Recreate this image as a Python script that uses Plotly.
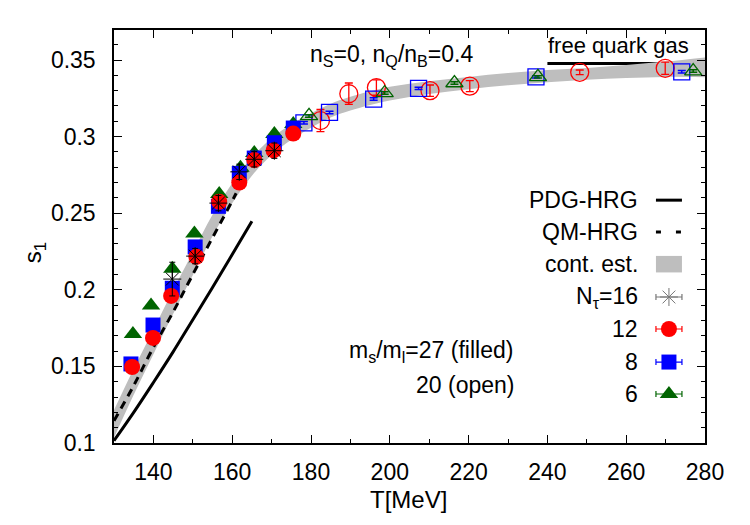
import plotly.graph_objects as go

# ---------------- data ----------------
# continuum estimate band (lower / upper edge)
T_band = [130, 135, 140, 145, 150, 155, 160, 165, 170, 175, 180, 185, 190, 200, 210, 220, 230, 240, 250, 260, 270, 280]
band_lo = [0.1035, 0.1315, 0.158, 0.1842, 0.2095, 0.235, 0.2565, 0.2745, 0.288, 0.298, 0.3058, 0.3125, 0.317,
           0.3235, 0.3278, 0.331, 0.3335, 0.3355, 0.3372, 0.3383, 0.339, 0.3387]
band_hi = [0.1215, 0.1485, 0.174, 0.1998, 0.2245, 0.249, 0.2695, 0.2865, 0.299, 0.308, 0.3152, 0.3215, 0.326,
           0.3325, 0.3362, 0.339, 0.3415, 0.3435, 0.3448, 0.3467, 0.349, 0.3517]

# PDG-HRG and QM-HRG curves
T_pdg = [130, 135, 140, 145, 150, 155, 160, 165]
s_pdg = [0.1015, 0.120, 0.1395, 0.1595, 0.1805, 0.2015, 0.223, 0.2447]
T_qm = [130, 135, 140, 145, 150, 155, 160, 161]
s_qm = [0.1145, 0.1375, 0.1625, 0.1855, 0.210, 0.234, 0.258, 0.263]

# free quark gas limit
T_fqg = [240, 280]
s_fqg = [0.3478, 0.3478]

# ms/ml = 27 (filled)
T_n16 = [144.8, 150.6, 156.5, 161.8, 165.6, 170.7]
s_n16 = [0.207, 0.222, 0.2566, 0.277, 0.2852, 0.2908]
e_n16 = [0.011, 0.005, 0.005, 0.005, 0.005, 0.005]

T_n12f = [134.6, 139.9, 144.5, 150.9, 156.7, 161.8, 165.6, 170.5, 175.5]
s_n12f = [0.1496, 0.1686, 0.196, 0.2216, 0.2575, 0.270, 0.2847, 0.291, 0.302]

T_n8f = [134.3, 139.9, 144.8, 150.6, 156.5, 161.8, 165.6, 170.7, 175.5]
s_n8f = [0.1516, 0.177, 0.201, 0.228, 0.2545, 0.276, 0.286, 0.296, 0.3056]

T_n6f = [134.8, 139.4, 144.8, 150.4, 156.7, 162.1, 165.6, 170.7, 175.5]
s_n6f = [0.1711, 0.1897, 0.2137, 0.2367, 0.2625, 0.2797, 0.2893, 0.3017, 0.3082]

# ms/ml = 20 (open)
T_n12o = [182.4, 189.6, 196.6, 210.2, 220.3, 248.2, 269.9]
s_n12o = [0.3105, 0.328, 0.332, 0.330, 0.333, 0.342, 0.3446]
e_n12o = [0.0072, 0.007, 0.005, 0.0037, 0.0036, 0.0015, 0.004]

T_n8o = [178.2, 184.7, 195.9, 207.3, 237.1, 274.1]
s_n8o = [0.309, 0.3158, 0.3245, 0.3315, 0.339, 0.3423]
e_n8o = [0.0008, 0.0008, 0.0008, 0.0008, 0.0008, 0.0008]

T_n6o = [179.5, 198.7, 216.4, 237.6, 277.0]
s_n6o = [0.3135, 0.3285, 0.335, 0.339, 0.3428]
e_n6o = [0.0008, 0.0008, 0.0008, 0.0008, 0.0008]

x_ticks = [140, 160, 180, 200, 220, 240, 260, 280]
x_ticklabels = ["140", "160", "180", "200", "220", "240", "260", "280"]
y_ticks = [0.1, 0.15, 0.2, 0.25, 0.3, 0.35]
y_ticklabels = ["0.1", "0.15", "0.2", "0.25", "0.3", "0.35"]

legend_labels = ["PDG-HRG", "QM-HRG", "cont. est.", "N<sub>τ</sub>=16", "12", "8", "6"]

# ---------------- style ----------------
FONT = "Liberation Sans, Arial, Helvetica, sans-serif"
RED = "#ff0000"
BLUE = "#0000ff"
GREEN = "#006400"
GREY = "#bebebe"
TXT = 23

fig = go.Figure()

fig.add_trace(go.Scatter(x=T_fqg, y=s_fqg, mode="lines", line=dict(color="black", width=3), showlegend=False))
fig.add_trace(go.Scatter(x=T_band, y=band_lo, mode="lines", line=dict(width=0, shape="spline"),
                         showlegend=False, hoverinfo="skip"))
fig.add_trace(go.Scatter(x=T_band, y=band_hi, mode="lines", line=dict(width=0, shape="spline"),
                         fill="tonexty", fillcolor=GREY, showlegend=False, hoverinfo="skip"))
fig.add_trace(go.Scatter(x=T_qm, y=s_qm, mode="lines", line=dict(color="black", width=3, dash="8px,6px", shape="spline"),
                         showlegend=False))
fig.add_trace(go.Scatter(x=T_pdg, y=s_pdg, mode="lines", line=dict(color="black", width=3, shape="spline"),
                         showlegend=False))

# open symbols
fig.add_trace(go.Scatter(x=T_n12o, y=s_n12o, mode="markers",
                         marker=dict(symbol="circle-open", size=18, color=RED, line=dict(width=1.3, color=RED)),
                         error_y=dict(type="data", array=e_n12o, color=RED, thickness=1.3, width=4),
                         showlegend=False))
fig.add_trace(go.Scatter(x=T_n8o, y=s_n8o, mode="markers",
                         marker=dict(symbol="square-open", size=16, color=BLUE, line=dict(width=1.3, color=BLUE)),
                         error_y=dict(type="data", array=e_n8o, color=BLUE, thickness=1.5, width=4),
                         showlegend=False))
fig.add_trace(go.Scatter(x=T_n6o, y=s_n6o, mode="markers",
                         marker=dict(symbol="triangle-up-open", size=15, color=GREEN, line=dict(width=1.3, color=GREEN)),
                         error_y=dict(type="data", array=e_n6o, color=GREEN, thickness=1.5, width=4),
                         showlegend=False))

# filled symbols
fig.add_trace(go.Scatter(x=T_n6f, y=s_n6f, mode="markers",
                         marker=dict(symbol="triangle-up", size=16, color=GREEN), showlegend=False))
fig.add_trace(go.Scatter(x=T_n8f, y=s_n8f, mode="markers",
                         marker=dict(symbol="square", size=15, color=BLUE), showlegend=False))
fig.add_trace(go.Scatter(x=T_n12f, y=s_n12f, mode="markers",
                         marker=dict(symbol="circle", size=16, color=RED), showlegend=False))
fig.add_trace(go.Scatter(x=T_n16, y=s_n16, mode="markers",
                         marker=dict(symbol="asterisk-open", size=15, color="black", line=dict(width=1, color="black")),
                         error_y=dict(type="data", array=e_n16, color="black", thickness=1, width=3),
                         showlegend=False))

# ---------------- custom legend (text left, key right, as in the original) ----------------
leg_y = [0.588, 0.511, 0.433, 0.3535, 0.276, 0.196, 0.1186]
leg_text_x = 0.890
key_c = 0.939
key_h = 0.022

shapes = [
    dict(type="line", xref="paper", yref="paper", x0=key_c - key_h, x1=key_c + key_h, y0=leg_y[0], y1=leg_y[0],
         line=dict(color="black", width=3)),
    dict(type="line", xref="paper", yref="paper", x0=key_c - key_h, x1=key_c + key_h, y0=leg_y[1], y1=leg_y[1],
         line=dict(color="black", width=3, dash="5px,15px")),
    dict(type="rect", xref="paper", yref="paper", x0=key_c - key_h, x1=key_c + key_h,
         y0=leg_y[2] - 0.02, y1=leg_y[2] + 0.02, fillcolor=GREY, line=dict(width=0)),
]

key_styles = [
    dict(symbol="asterisk-open", size=15, color="#777777", line=dict(width=1, color="#777777")),
    dict(symbol="circle", size=16, color=RED),
    dict(symbol="square", size=15, color=BLUE),
    dict(symbol="triangle-up", size=16, color=GREEN),
]
key_err_colors = ["#777777", RED, BLUE, GREEN]
for i, (st, ec) in enumerate(zip(key_styles, key_err_colors)):
    fig.add_trace(go.Scatter(x=[key_c], y=[leg_y[3 + i]], xaxis="x2", yaxis="y2", mode="markers",
                             marker=st, showlegend=False, hoverinfo="skip",
                             error_x=dict(type="constant", value=key_h, color=ec, thickness=1.2, width=3)))

annotations = []
for lab, yy in zip(legend_labels, leg_y):
    annotations.append(dict(text=lab, xref="paper", yref="paper", x=leg_text_x, y=yy, xanchor="right",
                            yanchor="middle", showarrow=False, font=dict(family=FONT, size=TXT, color="black")))

annotations += [
    dict(text="n<sub>S</sub>=0, n<sub>Q</sub>/n<sub>B</sub>=0.4", xref="paper", yref="paper", x=0.329, y=0.938,
         xanchor="left", yanchor="middle", showarrow=False, font=dict(family=FONT, size=TXT, color="black")),
    dict(text="free quark gas", xref="paper", yref="paper", x=0.731, y=0.962,
         xanchor="left", yanchor="middle", showarrow=False, font=dict(family=FONT, size=22, color="black")),
    dict(text="m<sub>s</sub>/m<sub>l</sub>=27 (filled)", xref="paper", yref="paper", x=0.678, y=0.222,
         xanchor="right", yanchor="middle", showarrow=False, font=dict(family=FONT, size=TXT, color="black")),
    dict(text="20 (open)", xref="paper", yref="paper", x=0.681, y=0.140,
         xanchor="right", yanchor="middle", showarrow=False, font=dict(family=FONT, size=TXT, color="black")),
    dict(text="T[MeV]", xref="paper", yref="paper", x=0.4975, y=-0.138,
         xanchor="center", yanchor="middle", showarrow=False, font=dict(family=FONT, size=24, color="black")),
    dict(text="s<sub>1</sub>", xref="paper", yref="paper", x=-0.135, y=0.46, textangle=-90,
         xanchor="center", yanchor="middle", showarrow=False, font=dict(family=FONT, size=24, color="black")),
]

axis_common = dict(showline=True, linecolor="black", linewidth=1.5, mirror="allticks", ticks="inside",
                   ticklen=8, tickwidth=1, tickcolor="black", showgrid=False, zeroline=False,
                   tickfont=dict(family=FONT, size=TXT, color="black"))

fig.update_layout(
    width=750, height=525,
    margin=dict(l=114, r=45, t=30, b=82),
    paper_bgcolor="white", plot_bgcolor="white",
    xaxis=dict(range=[130, 280], tickvals=x_ticks, ticktext=x_ticklabels, ticklabelstandoff=8,
               minor=dict(ticks="inside", ticklen=4, dtick=10, tick0=130, tickcolor="black"), **axis_common),
    yaxis=dict(range=[0.1, 0.3696], tickvals=y_ticks, ticktext=y_ticklabels, ticklabelstandoff=12,
               minor=dict(ticks="inside", ticklen=4, dtick=0.01, tick0=0.1, tickcolor="black"), **axis_common),
    xaxis2=dict(range=[0, 1], overlaying="x", visible=False, fixedrange=True),
    yaxis2=dict(range=[0, 1], overlaying="y", visible=False, fixedrange=True),
    shapes=shapes,
    annotations=annotations,
    showlegend=False,
)

fig.write_html("out.html")
